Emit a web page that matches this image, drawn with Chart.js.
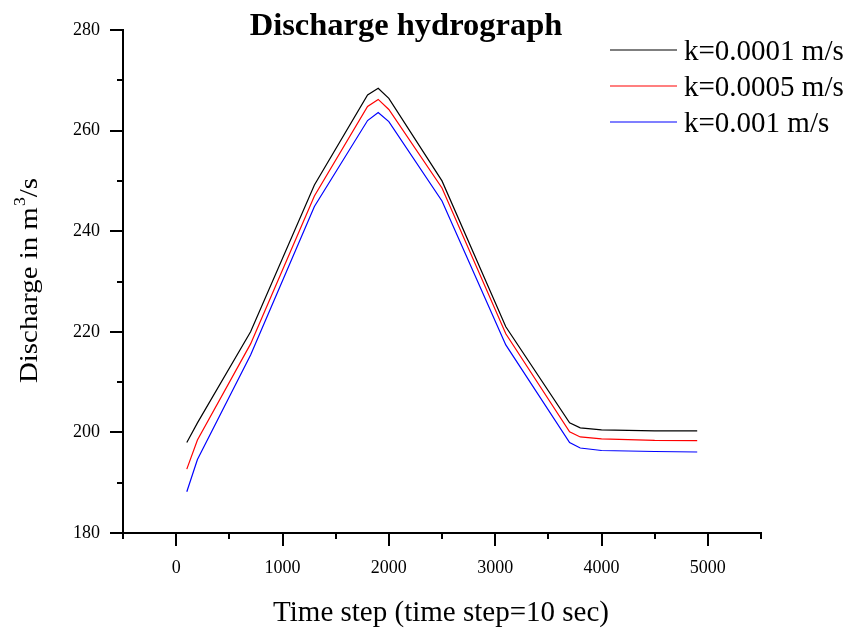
<!DOCTYPE html>
<html>
<head>
<meta charset="utf-8">
<script src="https://cdn.jsdelivr.net/npm/chart.js@4.4.1/dist/chart.umd.min.js"></script>
<style>
  html, body { margin: 0; background: #fff; }
  #wrap { width: 847px; height: 634px; }
</style>
</head>
<body>
<div id="wrap"><canvas id="chart" width="847" height="634"></canvas></div>
<script>
// time step of each sample (x) and discharge in m3/s for each k
const timeSteps = [100, 200, 700, 1300, 1800, 1900, 2000, 2500, 3100, 3700, 3800, 4000, 4500, 4900];
const qK0001 = [198.0, 201.9, 220.0, 249.2, 267.1, 268.4, 266.4, 250.0, 221.0, 201.9, 200.9, 200.5, 200.3, 200.3];
const qK0005 = [192.7, 198.5, 217.6, 247.0, 264.8, 266.2, 264.2, 248.6, 219.6, 200.1, 199.1, 198.7, 198.4, 198.35];
const qK001  = [188.2, 194.6, 215.4, 244.9, 262.0, 263.6, 261.8, 246.0, 217.4, 198.0, 196.9, 196.4, 196.2, 196.1];
const seriesLabels = ['k=0.0001 m/s', 'k=0.0005 m/s', 'k=0.001 m/s'];
const seriesColors = ['#000000', '#ff0000', '#0000ff'];
const xTickLabels = [0, 1000, 2000, 3000, 4000, 5000];
const yTickLabels = [180, 200, 220, 240, 260, 280];

const serif = "'Liberation Serif', 'Times New Roman', serif";

function pts(ys) { return timeSteps.map((t, i) => ({ x: t, y: ys[i] })); }

const datasets = [qK0001, qK0005, qK001].map((ys, i) => ({
  label: seriesLabels[i],
  data: pts(ys),
  borderColor: seriesColors[i],
  borderWidth: 1.2,
  pointRadius: 0,
  showLine: true,
  tension: 0,
  fill: false
}));

// axis ticks (major + minor, outward), titles and legend drawn by hand
const overlay = {
  id: 'overlay',
  afterDraw(chart) {
    const { ctx, chartArea: a, scales: { x, y } } = chart;
    ctx.save();
    ctx.strokeStyle = '#000';
    ctx.lineWidth = 2;
    ctx.beginPath();
    for (let v = x.min; v <= x.max; v += 500) {
      const px = Math.round(x.getPixelForValue(v));
      const len = xTickLabels.includes(v) ? 13 : 6;
      ctx.moveTo(px, a.bottom); ctx.lineTo(px, a.bottom + len);
    }
    for (let v = y.min; v <= y.max; v += 10) {
      const py = Math.round(y.getPixelForValue(v));
      const len = yTickLabels.includes(v) ? 13 : 6;
      ctx.moveTo(a.left, py); ctx.lineTo(a.left - len, py);
    }
    ctx.stroke();

    ctx.fillStyle = '#000';
    ctx.textBaseline = 'alphabetic';

    // title
    ctx.font = 'bold 32.5px ' + serif;
    ctx.textAlign = 'center';
    ctx.fillText('Discharge hydrograph', 406, 35);

    // x title
    ctx.font = '29px ' + serif;
    ctx.fillText('Time step (time step=10 sec)', 441, 621);

    // y title with superscript, stretched to the reference length
    ctx.save();
    ctx.translate(37, 383);
    ctx.rotate(-Math.PI / 2);
    ctx.textAlign = 'left';
    const p1 = 'Discharge in m';
    ctx.font = '26px ' + serif;
    const w1 = ctx.measureText(p1).width;
    const w3 = ctx.measureText('/s').width;
    ctx.font = '16px ' + serif;
    const ws = ctx.measureText('3').width;
    ctx.scale(205 / (w1 + ws + 1 + w3), 1);
    ctx.font = '26px ' + serif;
    ctx.fillText(p1, 0, 0);
    ctx.fillText('/s', w1 + ws + 1, 0);
    ctx.font = '16px ' + serif;
    ctx.fillText('3', w1 + 1, -12);
    ctx.restore();

    // legend
    ctx.font = '29px ' + serif;
    ctx.textAlign = 'left';
    chart.data.datasets.forEach((ds, i) => {
      const ly = 50 + i * 36;
      ctx.strokeStyle = ds.borderColor;
      ctx.lineWidth = 1.2;
      ctx.beginPath();
      ctx.moveTo(610, ly); ctx.lineTo(677, ly);
      ctx.stroke();
      ctx.fillText(ds.label, 684, ly + 10);
    });
    ctx.restore();
  }
};

new Chart(document.getElementById('chart'), {
  type: 'scatter',
  data: { datasets },
  options: {
    responsive: false,
    devicePixelRatio: 1,
    animation: false,
    layout: { padding: { top: 30, right: 86, left: 0, bottom: 0 } },
    plugins: { legend: { display: false }, tooltip: { enabled: false } },
    scales: {
      x: {
        type: 'linear', min: -500, max: 5500,
        afterFit: s => { s.height = 101; s.paddingLeft = 0; s.paddingRight = 0; },
        afterBuildTicks: s => { s.ticks = xTickLabels.map(v => ({ value: v })); },
        grid: { display: false, drawTicks: false },
        border: { display: true, color: '#000', width: 2 },
        ticks: { color: '#000', padding: 24, maxRotation: 0, font: { family: serif, size: 18 }, callback: v => String(v) }
      },
      y: {
        type: 'linear', min: 180, max: 280,
        afterFit: s => { s.width = 123; s.paddingTop = 0; s.paddingBottom = 0; },
        afterBuildTicks: s => { s.ticks = yTickLabels.map(v => ({ value: v })); },
        grid: { display: false, drawTicks: false },
        border: { display: true, color: '#000', width: 2 },
        ticks: { color: '#000', padding: 23, font: { family: serif, size: 18 }, callback: v => String(v) }
      }
    }
  },
  plugins: [overlay]
});
</script>
</body>
</html>
